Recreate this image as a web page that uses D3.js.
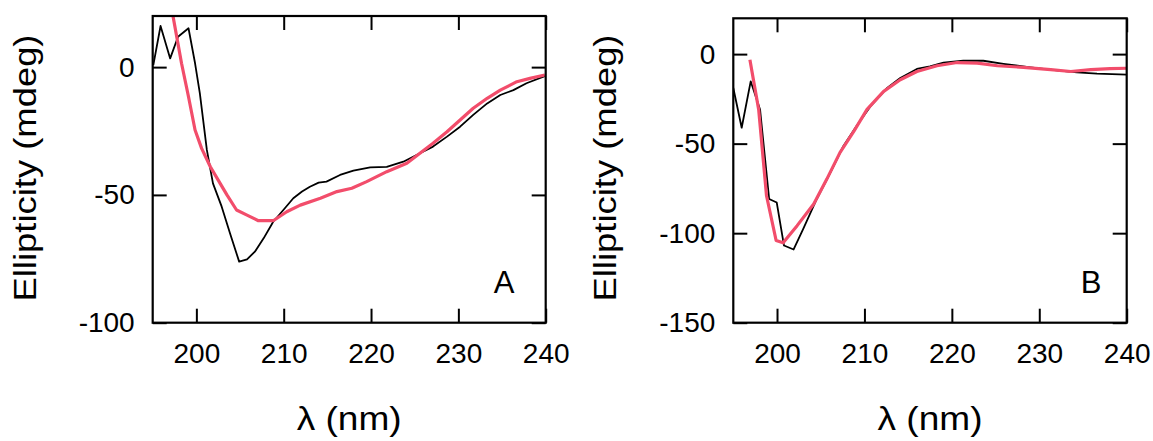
<!DOCTYPE html>
<html><head><meta charset="utf-8">
<script src="https://cdn.jsdelivr.net/npm/d3@7"></script>
<style>body{margin:0;background:#fff}svg{display:block}text{font-family:"Liberation Sans",Arial,sans-serif;fill:#000}</style>
</head><body><svg id="c" width="1153" height="441"></svg>
<script>
// ---- data ----
const xTicks = [200, 210, 220, 230, 240];
const yTicksA = [0, -50, -100];
const yTicksB = [0, -50, -100, -150];
const yTitle = "Ellipticity (mdeg)";
const xTitle = "λ (nm)";
const panelLabels = ["A", "B"];

// Panel A: black (measured) spectrum  [wavelength nm, ellipticity mdeg]
const blackA = [[195.07,0.8],[195.9,16.1],[197.0,3.4],[197.9,11.9],[199.1,15.2],[199.85,1.5],[200.4,-10.3],[201.2,-32.4],[201.9,-45.5],[202.9,-54.6],[203.85,-65],[204.9,-76.1],[205.8,-75.2],[206.7,-72.2],[207.7,-67],[208.8,-60.5],[209.96,-55.9],[211.1,-51.3],[212.1,-48.7],[213.0,-46.8],[214.0,-45.2],[214.9,-44.8],[216.45,-42.2],[217.98,-40.5],[219.9,-39.2],[221.8,-39],[223.7,-37],[225.6,-33.7],[227.1,-31.1],[228.7,-27.2],[230.2,-23.3],[231.7,-18.7],[233.3,-14.2],[234.8,-10.9],[236.3,-9],[237.8,-6.3],[239.9,-3.5]];
// Panel A: red (fitted) spectrum
const redA = [[196.9,28],[198.3,1.5],[199.1,-11.6],[199.85,-24.6],[200.6,-31.8],[201.6,-39],[202.5,-44.2],[203.5,-50],[204.6,-55.9],[205.8,-57.9],[207.1,-60.1],[208.8,-60.1],[210.35,-56.6],[211.9,-54],[214.2,-51.3],[216.1,-48.7],[217.8,-47.4],[219.5,-44.8],[221.8,-40.9],[224.1,-37.6],[225.6,-33.7],[227.1,-29.8],[228.7,-25.3],[230.2,-20.7],[231.7,-16.1],[233.3,-12.2],[234.8,-9],[236.7,-5.7],[238.2,-4.4],[239.9,-3.1]];
// Panel B: black spectrum
const blackB = [[195,-18.9],[195.96,-41.1],[196.99,-15.2],[198.06,-30.9],[199.1,-80.9],[199.97,-82.9],[200.8,-106.9],[201.9,-109.1],[203.0,-97.6],[204.55,-80.9],[206.1,-66.1],[207.6,-51.3],[209.1,-40.2],[210.7,-29.1],[212.6,-18.9],[214.1,-13.3],[216.0,-8.3],[217.5,-6.9],[219.05,-4.7],[221.3,-3.7],[223.6,-3.7],[225.9,-5.4],[228.98,-7.4],[232.0,-9.1],[234.3,-10.2],[236.6,-10.9],[240,-11.5]];
// Panel B: red spectrum
const redB = [[196.9,-3.2],[197.9,-30.9],[198.8,-79.1],[199.9,-104.1],[200.7,-105.4],[202.3,-95.8],[204.2,-83.7],[205.7,-69.8],[207.2,-55],[208.8,-43],[210.3,-30.9],[212.2,-20.8],[214.1,-14.3],[216.0,-9.7],[218.3,-6.5],[220.6,-4.7],[222.9,-5],[225.2,-6.5],[228.2,-7.4],[231.3,-8.7],[233.6,-9.7],[235.9,-8.7],[238.1,-8.1],[240,-7.9]];

const RED = "#f24d6b";
const svg = d3.select("#c");
const fmt = d => String(d);

function panel(cfg) {
  const {left, top, right, bottom, yDomain, yTicks, black, red, label, labelX, titleX, id} = cfg;
  const x = d3.scaleLinear().domain([195, 240]).range([left, right]);
  const y = d3.scaleLinear().domain(yDomain).range([bottom, top]);
  const g = svg.append("g");
  g.append("clipPath").attr("id", id).append("rect")
    .attr("x", left).attr("y", top).attr("width", right - left).attr("height", bottom - top);

  const T = 14;
  const ax = (a) => a.tickSizeOuter(0);
  const bot = g.append("g").attr("transform", `translate(0,${bottom})`)
    .call(ax(d3.axisBottom(x).tickValues(xTicks).tickSizeInner(-T).tickPadding(20).tickFormat(fmt)));
  const topA = g.append("g").attr("transform", `translate(0,${top})`)
    .call(ax(d3.axisTop(x).tickValues(xTicks).tickSizeInner(-T).tickFormat("")));
  const lf = g.append("g").attr("transform", `translate(${left},0)`)
    .call(ax(d3.axisLeft(y).tickValues(yTicks).tickSizeInner(-T).tickPadding(18).tickFormat(fmt)));
  const rt = g.append("g").attr("transform", `translate(${right},0)`)
    .call(ax(d3.axisRight(y).tickValues(yTicks).tickSizeInner(-T).tickFormat("")));
  [bot, topA, lf, rt].forEach(a => {
    a.select(".domain").remove();
    a.selectAll("line").attr("stroke", "#000").attr("stroke-width", 2);
    a.selectAll("text").style("font-family", '"Liberation Sans", Arial, sans-serif').style("font-size", "28px").attr("fill", "#000");
  });

  const line = d3.line().x(d => x(d[0])).y(d => y(d[1]));
  g.append("path").datum(black).attr("d", line).attr("fill", "none")
    .attr("stroke", "#000").attr("stroke-width", 1.8).attr("stroke-linejoin", "round").attr("clip-path", `url(#${id})`);
  g.append("path").datum(red).attr("d", line).attr("fill", "none")
    .attr("stroke", RED).attr("stroke-width", 3.2).attr("stroke-linejoin", "round").attr("clip-path", `url(#${id})`);

  g.append("rect").attr("x", left).attr("y", top).attr("width", right - left).attr("height", bottom - top)
    .attr("fill", "none").attr("stroke", "#000").attr("stroke-width", 2.2);

  g.append("text").attr("x", labelX).attr("y", 293).attr("text-anchor", "middle")
    .style("font-size", "31px").text(label);

  g.append("text").attr("transform", `translate(${titleX},168) rotate(-90)`).attr("text-anchor", "middle")
    .style("font-size", "31px").attr("textLength", 267).attr("lengthAdjust", "spacingAndGlyphs").text(yTitle);

  g.append("text").attr("x", (left + right) / 2).attr("y", 430).attr("text-anchor", "middle")
    .style("font-size", "34px").attr("textLength", 105).attr("lengthAdjust", "spacingAndGlyphs").text(xTitle);
}

panel({id: "clipA", left: 152.7, top: 16, right: 545.7, bottom: 322.7, yDomain: [-100, 20], yTicks: yTicksA,
  black: blackA, red: redA, label: panelLabels[0], labelX: 504, titleX: 36});
panel({id: "clipB", left: 733.3, top: 18.3, right: 1126.7, bottom: 322.7, yDomain: [-150, 20], yTicks: yTicksB,
  black: blackB, red: redB, label: panelLabels[1], labelX: 1091, titleX: 616});
</script></body></html>
